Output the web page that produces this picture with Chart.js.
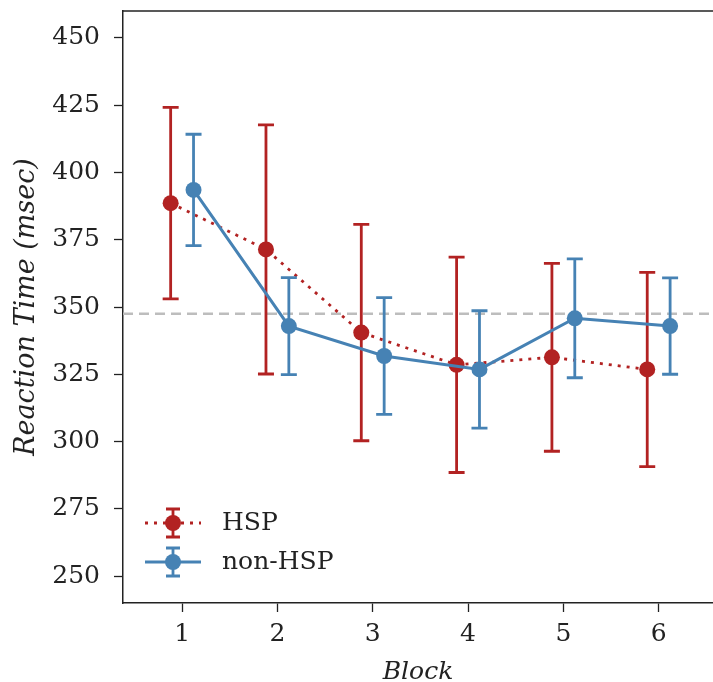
<!DOCTYPE html>
<html>
<head>
<meta charset="utf-8">
<script src="https://cdn.jsdelivr.net/npm/chart.js@4.4.1/dist/chart.umd.min.js"></script>
<style>
  html, body { margin: 0; padding: 0; background: #fff; }
  #wrap { width: 713px; height: 682px; }
</style>
</head>
<body>
<div id="wrap"><canvas id="rtChart" width="713" height="682"></canvas></div>
<script>
// data
const blocks = [1, 2, 3, 4, 5, 6];
const hspMean = [388.6, 371.4, 340.5, 328.5, 331.3, 326.8];
const hspErr = [35.6, 46.3, 40.2, 40.0, 34.9, 36.1];
const nonHspMean = [393.5, 342.9, 331.8, 326.8, 345.8, 342.9];
const nonHspErr = [20.7, 18.0, 21.7, 21.8, 22.1, 17.9];
const yTicks = [250, 275, 300, 325, 350, 375, 400, 425, 450];
const overallMean = 347.5;

const RED = '#b22222';
const BLUE = '#4682b4';
const FONT = "'DejaVu Serif', serif";
const OFFSET = 0.12;

const pts = (means, shift) => blocks.map((b, i) => ({ x: b + shift, y: means[i] }));

// error bars drawn just before each dataset, so later series sit on top
const errorBars = {
    id: 'errorBars',
    beforeDatasetDraw(chart, args) {
        const ds = chart.data.datasets[args.index];
        const x = chart.scales.x, y = chart.scales.y;
        const ctx = chart.ctx;
        ctx.save();
        ctx.strokeStyle = ds.borderColor;
        ctx.lineWidth = 2.8;
        ctx.setLineDash([]);
        ds.data.forEach((p, i) => {
            const px = x.getPixelForValue(p.x);
            const top = y.getPixelForValue(p.y + ds.errors[i]);
            const bot = y.getPixelForValue(p.y - ds.errors[i]);
            ctx.beginPath();
            ctx.moveTo(px, top); ctx.lineTo(px, bot);
            ctx.moveTo(px - 8, top); ctx.lineTo(px + 8, top);
            ctx.moveTo(px - 8, bot); ctx.lineTo(px + 8, bot);
            ctx.stroke();
        });
        ctx.restore();
    }
};

// dashed reference line + top spine
const frame = {
    id: 'frame',
    beforeDatasetsDraw(chart) {
        const { ctx, chartArea } = chart;
        const py = chart.scales.y.getPixelForValue(overallMean);
        ctx.save();
        ctx.strokeStyle = '#bdbdbd';
        ctx.lineWidth = 2.5;
        ctx.setLineDash([10, 6]);
        ctx.beginPath();
        ctx.moveTo(chartArea.left, py);
        ctx.lineTo(chartArea.right, py);
        ctx.stroke();
        ctx.restore();
    },
    afterDraw(chart) {
        const { ctx, chartArea } = chart;
        ctx.save();
        ctx.strokeStyle = '#222';
        ctx.lineWidth = 1.5;
        ctx.beginPath();
        ctx.moveTo(chartArea.left, chartArea.top);
        ctx.lineTo(chartArea.right + 2, chartArea.top);
        ctx.stroke();
        ctx.restore();
    }
};

// matplotlib style legend in the lower left
const legendBox = {
    id: 'legendBox',
    afterDraw(chart) {
        const ctx = chart.ctx;
        const entries = [
            { label: 'HSP', color: RED, dash: [3, 6], y: 523 },
            { label: 'non-HSP', color: BLUE, dash: [], y: 562 }
        ];
        ctx.save();
        entries.forEach(e => {
            ctx.strokeStyle = e.color;
            ctx.lineWidth = 2.8;
            ctx.setLineDash(e.dash);
            ctx.beginPath();
            ctx.moveTo(145, e.y); ctx.lineTo(201, e.y);
            ctx.stroke();
            ctx.setLineDash([]);
            ctx.beginPath();
            ctx.moveTo(173, e.y - 14); ctx.lineTo(173, e.y + 14);
            ctx.moveTo(166, e.y - 14); ctx.lineTo(180, e.y - 14);
            ctx.moveTo(166, e.y + 14); ctx.lineTo(180, e.y + 14);
            ctx.stroke();
            ctx.fillStyle = e.color;
            ctx.beginPath();
            ctx.arc(173, e.y, 8, 0, Math.PI * 2);
            ctx.fill();
            ctx.fillStyle = '#222';
            ctx.font = "25px " + FONT;
            ctx.textBaseline = 'middle';
            ctx.fillText(e.label, 222, e.y);
        });
        ctx.restore();
    }
};

new Chart(document.getElementById('rtChart'), {
    type: 'line',
    data: {
        datasets: [
            {
                label: 'HSP',
                data: pts(hspMean, -OFFSET),
                errors: hspErr,
                borderColor: RED,
                backgroundColor: RED,
                borderWidth: 2.8,
                borderDash: [3, 6],
                pointRadius: 8,
                pointBorderWidth: 0,
                pointBackgroundColor: RED,
                order: 1
            },
            {
                label: 'non-HSP',
                data: pts(nonHspMean, OFFSET),
                errors: nonHspErr,
                borderColor: BLUE,
                backgroundColor: BLUE,
                borderWidth: 3,
                pointRadius: 8,
                pointBorderWidth: 0,
                pointBackgroundColor: BLUE,
                order: 0
            }
        ]
    },
    options: {
        responsive: false,
        animation: false,
        layout: { autoPadding: false, padding: { top: 11, right: 0, left: 0, bottom: 0 } },
        plugins: { legend: { display: false }, tooltip: { enabled: false } },
        scales: {
            x: {
                type: 'linear',
                min: 0.38,
                max: 6.57,
                afterBuildTicks: s => { s.ticks = blocks.map(v => ({ value: v })); },
                afterFit: s => { s.height = 79; s.paddingLeft = 0; s.paddingRight = 0; },
                grid: { drawOnChartArea: false, tickLength: 9, tickColor: '#222', tickWidth: 1.3 },
                border: { color: '#222', width: 1.5 },
                ticks: { color: '#222', font: { family: FONT, size: 25 }, padding: 7 },
                title: {
                    display: true, text: 'Block', color: '#222',
                    font: { family: FONT, size: 25, style: 'italic' }, padding: { top: 0, bottom: -5 }
                }
            },
            y: {
                min: 240,
                max: 460,
                afterBuildTicks: s => { s.ticks = yTicks.map(v => ({ value: v })); },
                afterFit: s => { s.width = 123; s.paddingTop = 0; s.paddingBottom = 0; },
                grid: { drawOnChartArea: false, tickLength: 9, tickColor: '#222', tickWidth: 1.3 },
                border: { color: '#222', width: 1.5 },
                ticks: { color: '#222', font: { family: FONT, size: 25 }, padding: 14 },
                title: {
                    display: true, text: 'Reaction Time (msec)', color: '#222',
                    font: { family: FONT, size: 27, style: 'italic' }, padding: { top: 11, bottom: 0 }
                }
            }
        }
    },
    plugins: [errorBars, frame, legendBox]
});
</script>
</body>
</html>
